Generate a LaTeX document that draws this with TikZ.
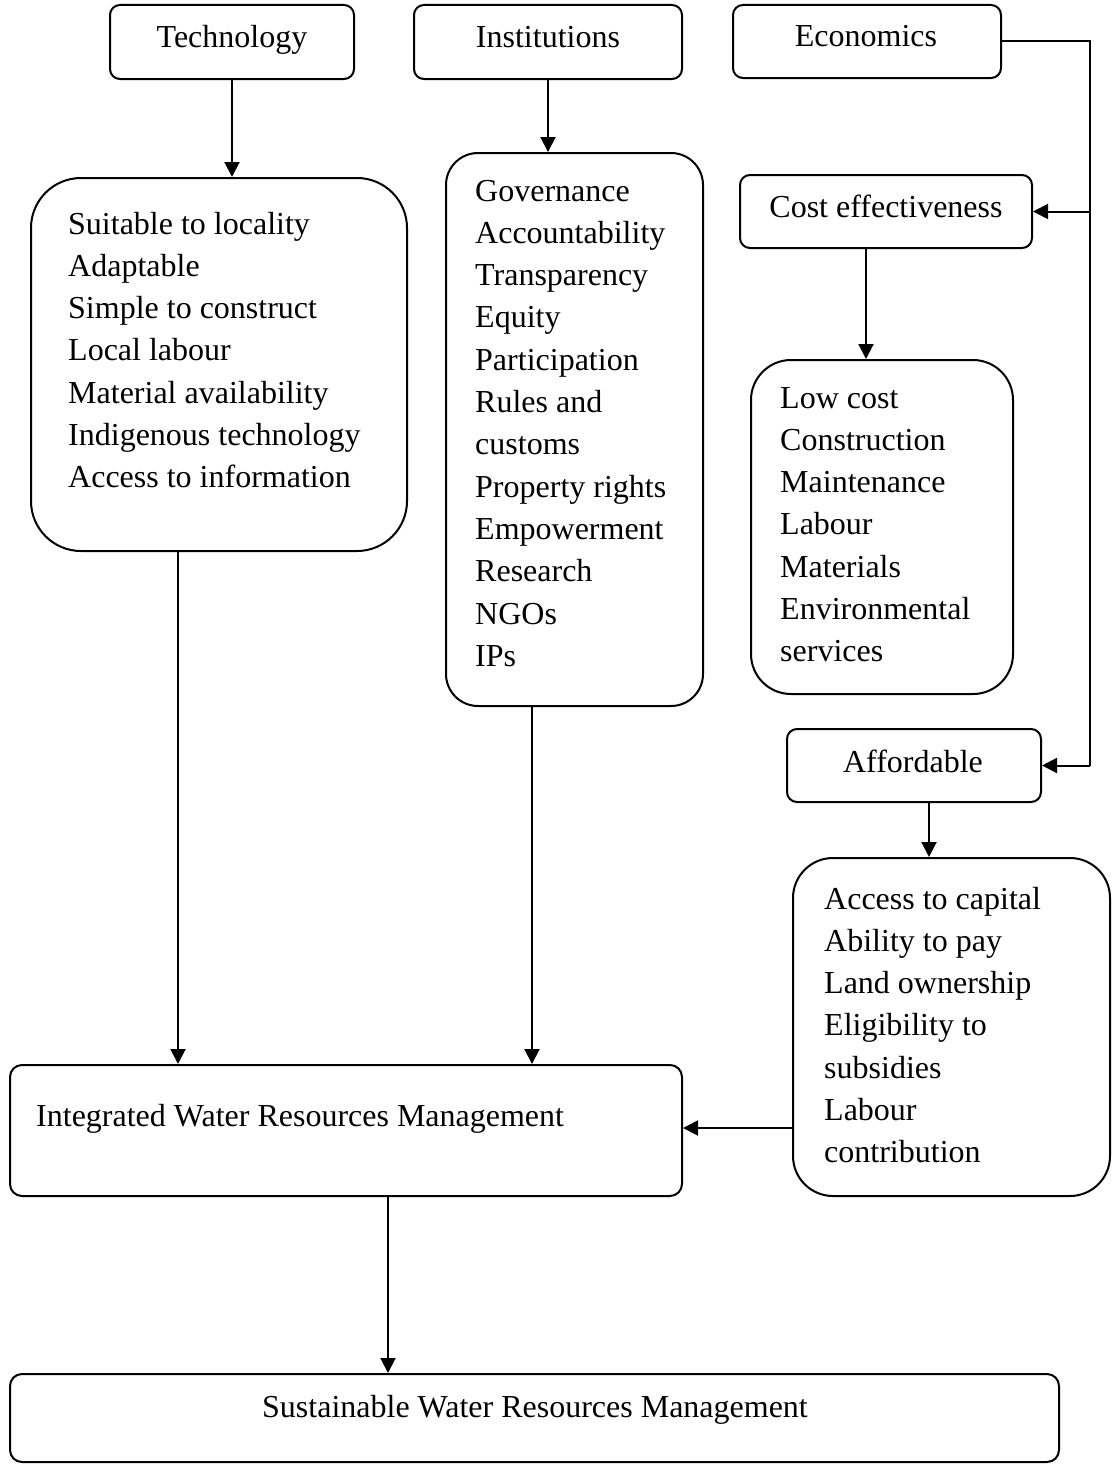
\documentclass[tikz,border=0pt]{standalone}
\usepackage{fontspec}
\setmainfont{Liberation Serif}
\usetikzlibrary{arrows.meta}
\begin{document}
\begin{tikzpicture}[x=1pt,y=-1pt,
  txt/.style={font=\fontsize{32}{42.3}\selectfont, inner sep=0pt, align=left},
  box/.style={draw, line width=2pt, inner sep=0pt, rounded corners=#1},
  arr/.style={line width=2pt, -{Triangle[length=15pt,width=15pt]}},
  ln/.style={line width=2pt}]
\useasboundingbox (0,0) rectangle (1111,1464);
% header boxes
\node[box=10pt, minimum width=244pt, minimum height=74pt] (tech) at (232,42) {};
\node[box=10pt, minimum width=268pt, minimum height=74pt] (inst) at (548,42) {};
\node[box=10pt, minimum width=268pt, minimum height=73pt] (econ) at (867,41.5) {};
\node[txt, anchor=base] (techT) at (232,48) {Technology};
\node[txt, anchor=base] (instT) at (548,48) {Institutions};
\node[txt, anchor=base] (econT) at (866,47) {Economics};
% list boxes (base anchor = baseline of last line)
\node[box=50pt, minimum width=376pt, minimum height=373pt] (techlist) at (219,364.5) {};
\node[txt, anchor=base west] (techL) at (68,487.8) {Suitable to locality\\Adaptable\\Simple to construct\\Local labour\\Material availability\\Indigenous technology\\Access to information};
\node[box=32pt, minimum width=257pt, minimum height=553pt] (instlist) at (574.5,429.5) {};
\node[txt, anchor=base west] (instL) at (475,666.3) {Governance\\Accountability\\Transparency\\Equity\\Participation\\Rules and\\customs\\Property rights\\Empowerment\\Research\\NGOs\\IPs};
% economics branch
\node[box=10pt, minimum width=292pt, minimum height=73pt] (cost) at (886,211.5) {};
\node[txt, anchor=base] (costT) at (886,217) {Cost effectiveness};
\node[box=40pt, minimum width=262pt, minimum height=334pt] (costlist) at (882,527) {};
\node[txt, anchor=base west] (costL) at (780,661.8) {Low cost\\Construction\\Maintenance\\Labour\\Materials\\Environmental\\services};
\node[box=10pt, minimum width=254pt, minimum height=73pt] (afford) at (914,765.5) {};
\node[txt, anchor=base] (affordT) at (913,772) {Affordable};
\node[box=40pt, minimum width=317pt, minimum height=338pt] (affordlist) at (951.5,1027) {};
\node[txt, anchor=base west] (affordL) at (824,1162.8) {Access to capital\\Ability to pay\\Land ownership\\Eligibility to\\subsidies\\Labour\\contribution};
% bottom boxes
\node[box=12pt, minimum width=672pt, minimum height=131pt] (iwrm) at (346,1130.5) {};
\node[txt, anchor=base west] (iwrmT) at (36,1126) {Integrated Water Resources Management};
\node[box=12pt, minimum width=1049pt, minimum height=88pt] (swrm) at (534.5,1418) {};
\node[txt, anchor=base] (swrmT) at (535,1417) {Sustainable Water Resources Management};
% connectors
\draw[arr] (tech.south) -- (tech.south |- techlist.north);
\draw[arr] (inst.south) -- (inst.south |- instlist.north);
\coordinate (xline) at (1090,0);
\draw[ln] (econ.east) -| (xline |- afford.east);
\draw[arr] (xline |- afford.east) -- (afford.east);
\draw[arr] (xline |- cost.east) -- (cost.east);
\coordinate (cx) at (866,0);
\draw[arr] (cx |- cost.south) -- (cx |- costlist.north);
\coordinate (ax) at (929,0);
\draw[arr] (ax |- afford.south) -- (ax |- affordlist.north);
\coordinate (tx) at (178,0);
\draw[arr] (tx |- techlist.south) -- (tx |- iwrm.north);
\coordinate (ix) at (532,0);
\draw[arr] (ix |- instlist.south) -- (ix |- iwrm.north);
\coordinate (ay) at (0,1128);
\draw[arr] (affordlist.west |- ay) -- (iwrm.east |- ay);
\coordinate (bx) at (388,0);
\draw[arr] (bx |- iwrm.south) -- (bx |- swrm.north);
\end{tikzpicture}
\end{document}
